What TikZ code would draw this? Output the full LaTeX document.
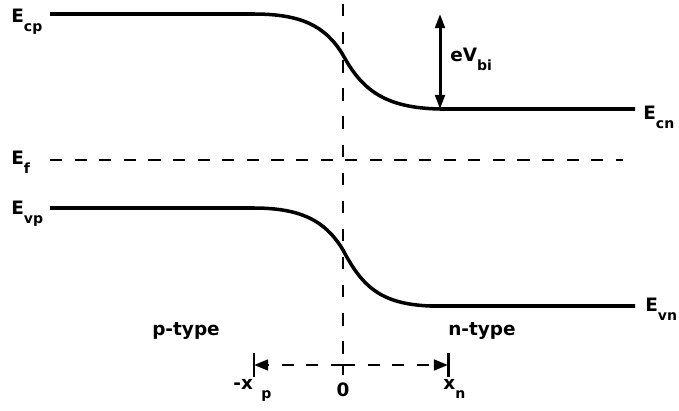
\documentclass[tikz,border=0pt]{standalone}
\usepackage{fontspec}
\setmainfont{DejaVu Sans}
\usetikzlibrary{arrows.meta,positioning}
\newcommand{\lowsub}[1]{\raisebox{-5pt}{\fontsize{8}{9}\bfseries\selectfont #1}}

\begin{document}
\begin{tikzpicture}[
  x=0.02cm, y=-0.02cm,
  band/.style={line width=2pt},
  guide/.style={line width=1.6pt, dash pattern=on 7pt off 7pt},
  tick/.style={line width=1.7pt},
  lbl/.style={inner sep=0pt, font=\fontsize{10.5}{12}\bfseries\selectfont},
  tip/.style={-{Triangle[length=8pt,width=6pt]}},
  dbl/.style={line width=1.7pt, {Triangle[length=8pt,width=5.5pt]}-{Triangle[length=8pt,width=5.5pt]}}
]
  \useasboundingbox (0,0) rectangle (679,411);

  % band edges and levels
  \coordinate (cpL) at (50,14);
  \coordinate (cnR) at (635,109);
  \coordinate (vpL) at (50,208);
  \coordinate (vnR) at (635,306);
  \coordinate (fL) at (50,160);
  \coordinate (fR) at (623,160);
  \coordinate (biT) at (440,14);
  \coordinate (biB) at (440,109);
  \coordinate (ztop) at (343,4);
  \coordinate (zero) at (343,365);
  \coordinate (xpL) at (254,365);
  \coordinate (xnR) at (448,365);

  \draw[band] (cpL) -- (253,14) .. controls (300,14) and (325,25) .. (343,55)
    .. controls (362,90) and (385,108) .. (biB) -- (cnR);
  \draw[band] (vpL) -- (253,208) .. controls (300,208) and (325,220) .. (343,250)
    .. controls (362,286) and (380,304) .. (430,306) -- (vnR);
  \draw[guide] (fL) -- (fR);
  \draw[guide, dash pattern=on 7pt off 9pt] (ztop) -- (zero);
  \draw[dbl] (biT) -- (biB);

  % depletion width
  \draw[guide, tip] (zero) -- (xpL);
  \draw[guide, tip] (zero) -- (xnR);
  \draw[tick] ([yshift=0.24cm]xpL) -- ([yshift=-0.24cm]xpL);
  \draw[tick] ([yshift=0.24cm]xnR) -- ([yshift=-0.24cm]xnR);
  \draw[tick] (zero) -- ([yshift=-0.2cm]zero);

  \node[lbl, anchor=base west] (Ecp) at (11,23) {E\lowsub{cp}};
  \node[lbl, anchor=base west] (Ef) at (11,165) {E\lowsub{f}};
  \node[lbl, anchor=base west] (Evp) at (11,215) {E\lowsub{vp}};
  \node[lbl, anchor=base west] (Ecn) at (643,120) {E\lowsub{cn}};
  \node[lbl, anchor=base west] (Evn) at (645,312) {E\lowsub{vn}};
  \node[lbl, anchor=base west] (eVbi) at (450,62) {eV\lowsub{bi}};
  \node[lbl] (ptype) at (186,331) {p-type};
  \node[lbl] (ntype) at (482,331) {n-type};
  \node[lbl, anchor=base west] (xp) at (233,390) {-x\hspace{0.17cm}\lowsub{p}};
  \node[lbl, anchor=base] (orig) at (343,397) {0};
  \node[lbl, anchor=base west] (xn) at (443,390) {x\lowsub{n}};
\end{tikzpicture}
\end{document}
